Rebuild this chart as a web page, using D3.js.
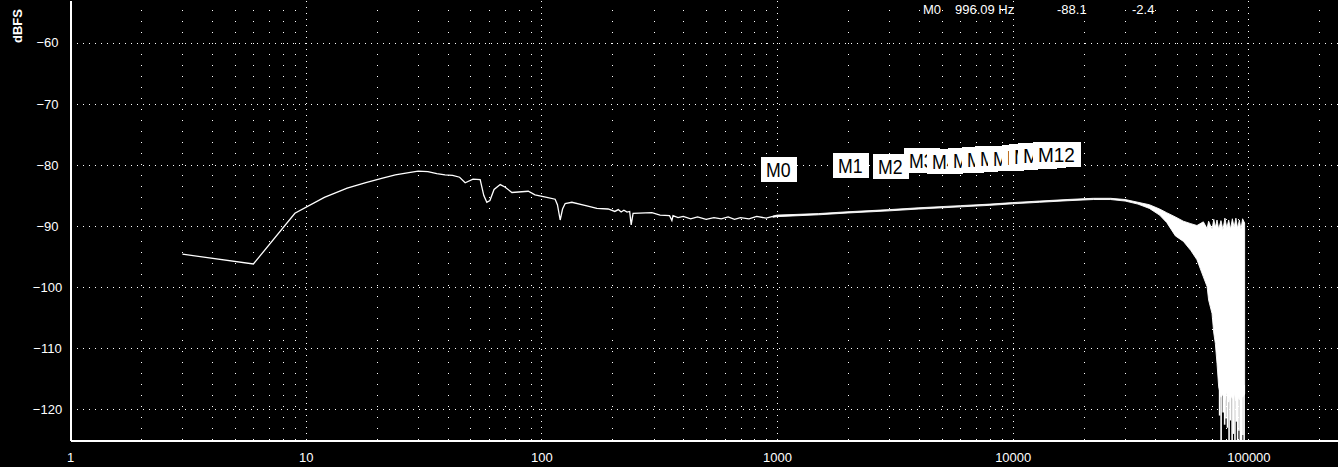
<!DOCTYPE html>
<html><head><meta charset="utf-8">
<script src="https://cdn.jsdelivr.net/npm/d3@7"></script>
<style>
html,body{margin:0;padding:0;background:#000;}
svg{display:block;}
text{font-family:"Liberation Sans",Arial,sans-serif;fill:#fff;}
</style></head>
<body>
<svg id="c" width="1338" height="467"></svg>
<script>
// ---- data ----
const xTickValues = [1, 10, 100, 1000, 10000, 100000];
const yTickValues = [-60, -70, -80, -90, -100, -110, -120];

// main trace (Hz, dBFS)
const mainFreq = [3,6,9,12,15,18,21,24,27,30,33,36,39,42,45,47.5,51.3,55,57,58.7,60.5,63,66.9,70,75,88,94,105.5,114.4,117,120.2,123,126.2,134.7,156,172,192,205,212,218,224,231,237,240.5,245,294.5,319,350,358,362,380,400,430,460,500,540,580,620,660,700,760,820,900,960];
const mainDb   = [-94.6,-96.2,-87.9,-85.3,-83.8,-82.9,-82.2,-81.6,-81.3,-81.0,-81.1,-81.4,-81.6,-81.7,-82.0,-82.9,-82.3,-82.4,-85.0,-86.1,-85.8,-84.0,-83.2,-83.6,-84.5,-84.3,-84.9,-85.3,-85.6,-86.5,-89.0,-87.2,-86.3,-86.1,-86.7,-87.1,-87.2,-87.6,-87.3,-87.7,-87.4,-87.7,-87.6,-89.8,-87.9,-87.8,-88.2,-88.3,-89.1,-88.3,-88.6,-88.4,-88.8,-88.5,-88.9,-88.6,-88.8,-88.5,-88.9,-88.6,-88.8,-88.4,-88.7,-88.4];

// noisy band (upper / lower envelope)
const bandFreq = [960,1000,1500,2000,3000,4000,6000,8000,10000,13000,17000,22000,26000,30000,34000,38000,42000,45000,49000,53000,57000,60500,64400,66800,67800,70100,71300,72400,73600,74800,76500,78000,79500,81000,82500,84000,85500,87000,88500,90000,91500,93000,94500,96400];
const bandHi   = [-88.35,-88.2,-87.95,-87.65,-87.3,-87.0,-86.65,-86.4,-86.15,-85.9,-85.65,-85.45,-85.45,-85.65,-86.1,-86.5,-87.2,-87.8,-88.5,-89.2,-89.6,-89.9,-89.3,-90.4,-89.2,-90.5,-88.9,-90.2,-89.0,-90.5,-89.1,-90.6,-88.7,-90.3,-89.0,-90.5,-88.8,-90.2,-88.7,-90.4,-89.0,-90.5,-88.8,-89.5];
const bandLo   = [-88.55,-88.45,-88.15,-87.85,-87.5,-87.2,-86.85,-86.6,-86.35,-86.1,-85.85,-85.65,-85.65,-85.9,-86.4,-87.1,-88.2,-89.4,-91.6,-92.5,-94.0,-95.5,-98.3,-99.9,-102.1,-104.3,-107.5,-109.2,-112.5,-116.3,-118.0,-117.5,-118.5,-117.0,-118.8,-117.6,-118.2,-117.2,-118.6,-117.8,-118.4,-117.4,-118.0,-117.5];

// deep downward spikes at the bottom of the band
const spikeFreq = [75500,76600,78200,79300,80300,81500,82800,84000,85300,86500,87700,88800,90000,91200,92400,93600,94800,95900];
const spikeDb   = [-121.0,-125,-120.5,-122.5,-121.5,-123.0,-125,-121.8,-125,-124.0,-125,-122.0,-125,-123.5,-125,-125,-124.2,-125];

// markers
const markerNames = ["M0","M1","M2","M3","M4","M5","M6","M7","M8","M9","M10","M11","M12"];
const markerFreq  = [996.09,2020,2990,4060,5050,6200,7100,8100,9200,10500,11300,12300,14300];
const markerDb    = [-88.05,-87.4,-87.5,-86.6,-86.7,-86.6,-86.4,-86.3,-86.2,-86.1,-85.9,-85.7,-85.53];

// readout
const readout = ["M0", "996.09 Hz", "-88.1", "-2.4"];

// ---- drawing ----
const svg = d3.select("#c");
const W = 1338, H = 467, L = 70, B = 440;
const x = d3.scaleLog().domain([1, 240000]).range([L, W]);
const y = d3.scaleLinear().domain([-125, -53]).range([B, 0]);
const px = v => Math.round(v) + 0.5;

const grid = svg.append("g").attr("shape-rendering","crispEdges");
grid.selectAll("line.h").data(yTickValues).join("line")
  .attr("x1", 77).attr("x2", W).attr("y1", d => px(y(d))).attr("y2", d => px(y(d)))
  .attr("stroke","#fff").attr("stroke-width",1).attr("stroke-dasharray","1,5");
const minor = [], major = [];
for (let k = 0; k <= 5; k++) {
  for (let m = 1; m <= 9; m++) {
    const v = m * Math.pow(10, k);
    if (v <= 1 || v > 240000) continue;
    (m === 1 ? major : minor).push(v);
  }
}
grid.selectAll("line.mi").data(minor).join("line")
  .attr("x1", d => px(x(d))).attr("x2", d => px(x(d))).attr("y1", 10).attr("y2", B)
  .attr("stroke","#fff").attr("stroke-dasharray","1,10");
grid.selectAll("line.ma").data(major).join("line")
  .attr("x1", d => px(x(d))).attr("x2", d => px(x(d))).attr("y1", 1).attr("y2", B)
  .attr("stroke","#fff").attr("stroke-dasharray","1,5");

// main trace
const mainPts = mainFreq.map((f,i)=>[f, mainDb[i]]);
svg.append("path").datum(mainPts)
  .attr("fill","none").attr("stroke","#fff").attr("stroke-width",1.3)
  .attr("d", d3.line().x(d=>x(d[0])).y(d=>y(d[1])));

// band
const bandPts = bandFreq.map((f,i)=>({f, hi: bandHi[i], lo: bandLo[i]}));
svg.append("path").datum(bandPts)
  .attr("fill","#fff").attr("stroke","#fff").attr("stroke-width",0.9)
  .attr("d", d3.area().x(d=>x(d.f)).y0(d=>y(d.lo)).y1(d=>y(d.hi)));

// spikes
svg.append("g").selectAll("line").data(spikeFreq.map((f,i)=>[f, spikeDb[i]])).join("line")
  .attr("x1", d=>x(d[0])).attr("x2", d=>x(d[0]))
  .attr("y1", y(-116)).attr("y2", d=>Math.min(B, y(d[1])))
  .attr("stroke","#fff").attr("stroke-width",1.6);

// markers (each box drawn over the previous one)
const mg = svg.append("g");
markerNames.forEach((name, i) => {
  const cx = Math.round(x(markerFreq[i]));
  const top = Math.round(y(markerDb[i]) - 45 - 12);
  const tl = 12.3 * name.length;
  const g = mg.append("g");
  g.append("rect").attr("fill","#fff").attr("shape-rendering","crispEdges")
    .attr("x", cx - 16).attr("y", top).attr("width", Math.round(tl + 11)).attr("height", 25);
  g.append("text").text(name)
    .attr("x", cx - 16 + 5).attr("y", top + 20)
    .attr("textLength", tl).attr("lengthAdjust","spacingAndGlyphs")
    .style("font-size","20px").style("fill","#000");
});

// axes
const xAxis = d3.axisBottom(x).tickValues(xTickValues).tickSize(0).tickSizeOuter(0)
  .tickPadding(12).tickFormat(d3.format("d"));
const gx = svg.append("g").attr("transform",`translate(0,${B + 0.5})`).call(xAxis);
gx.select(".domain").attr("stroke","#fff").attr("stroke-width",1.5).attr("shape-rendering","crispEdges");
gx.selectAll("text").style("font-size","13px").style("font-family","'Liberation Sans',Arial,sans-serif").attr("fill","#fff");

const yAxis = d3.axisLeft(y).tickValues(yTickValues).tickSize(0).tickSizeOuter(0)
  .tickPadding(0).tickFormat(d3.format("d"));
const gy = svg.append("g").attr("transform",`translate(${L + 0.5},0)`).call(yAxis);
gy.select(".domain").attr("stroke","#fff").attr("stroke-width",1.5).attr("shape-rendering","crispEdges");
gy.selectAll("text").attr("x", -23).attr("text-anchor","middle")
  .style("font-size","13px").style("font-family","'Liberation Sans',Arial,sans-serif").attr("fill","#fff");

// y axis title
svg.append("text").attr("transform","translate(22,26) rotate(-90)")
  .attr("text-anchor","middle").style("font-size","13px").style("font-weight","bold").text("dBFS");

// readout
const rx = [923, 955, 1057, 1132];
svg.append("g").selectAll("text").data(readout).join("text")
  .attr("x", (d,i)=>rx[i]).attr("y", 14).style("font-size","13px").text(d=>d);
</script>
</body></html>
